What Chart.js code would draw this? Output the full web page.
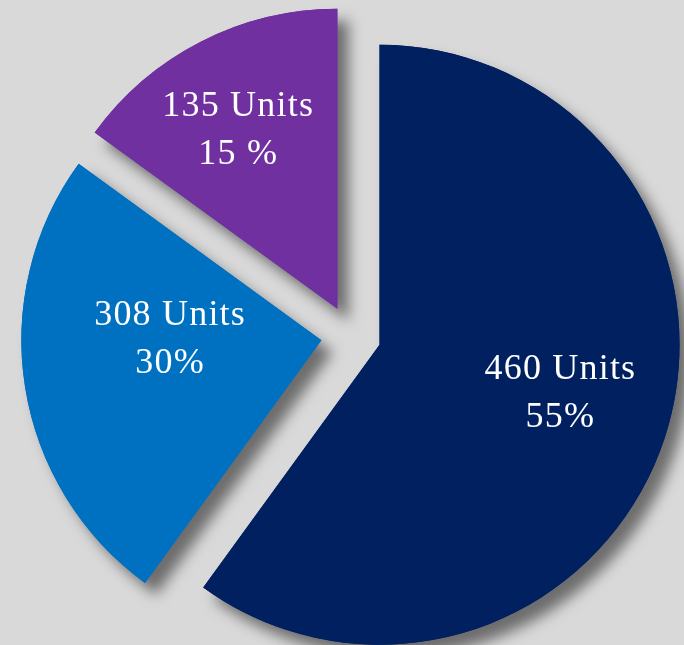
<!DOCTYPE html>
<html>
<head>
<meta charset="utf-8">
<script src="https://cdn.jsdelivr.net/npm/chart.js@4.4.1/dist/chart.umd.min.js"></script>
<style>
  html, body { margin: 0; padding: 0; background: #d9d9d9; overflow: hidden; }
  #wrap { width: 684px; height: 645px; }
</style>
</head>
<body>
<div id="wrap"><canvas id="chart" width="684" height="645"></canvas></div>
<script>
const categories = ["A", "B", "C"];
const sliceShares = [60, 25, 15];
const unitLabels = ["460 Units", "308 Units", "135 Units"];
const percentLabels = ["55%", "30%", "15 %"];
const colors = ["#002060", "#0070C0", "#7030A0"];

// --- Label placement: polar offset from each slice tip (deg clockwise from up, px) ---
const labelPlace = [
  { a: 100.6, r: 184 },
  { a: 275.7, r: 152 },
  { a: 332.8, r: 217 },
];

const EXPLODE = 30;

const explodePlugin = {
  id: "explode",
  afterDatasetsUpdate(chart) {
    const meta = chart.getDatasetMeta(0);
    meta.data.forEach((arc) => {
      const mid = (arc.startAngle + arc.endAngle) / 2;
      arc.x += Math.cos(mid) * EXPLODE;
      arc.y += Math.sin(mid) * EXPLODE;
    });
  },
  beforeDatasetsDraw(chart) {
    // shadows first so they sit under every slice
    const ctx = chart.ctx;
    const meta = chart.getDatasetMeta(0);
    ctx.save();
    ctx.shadowColor = "rgba(0,0,0,0.5)";
    ctx.shadowBlur = 14;
    ctx.shadowOffsetX = 11;
    ctx.shadowOffsetY = 12;
    meta.data.forEach((arc) => arc.draw(ctx));
    ctx.restore();
  },
  afterDatasetsDraw(chart) {
    const ctx = chart.ctx;
    const meta = chart.getDatasetMeta(0);
    ctx.save();
    ctx.fillStyle = "#ffffff";
    ctx.font = "36px 'Liberation Serif', serif";
    ctx.letterSpacing = "1.2px";
    ctx.textAlign = "center";
    ctx.textBaseline = "alphabetic";
    meta.data.forEach((arc, i) => {
      const p = labelPlace[i];
      const t = (p.a * Math.PI) / 180;
      const x = arc.x + Math.sin(t) * p.r;
      const y = arc.y - Math.cos(t) * p.r;
      ctx.fillText(unitLabels[i], x, y);
      ctx.fillText(percentLabels[i], x, y + 48);
    });
    ctx.restore();
  },
};

new Chart(document.getElementById("chart"), {
  type: "pie",
  data: {
    labels: categories,
    datasets: [
      {
        data: sliceShares,
        backgroundColor: colors,
        borderWidth: 0,
      },
    ],
  },
  options: {
    responsive: false,
    animation: false,
    radius: 300,
    layout: { padding: { left: 18, right: 0, top: 26, bottom: 0 } },
    plugins: { legend: { display: false }, tooltip: { enabled: false } },
  },
  plugins: [explodePlugin],
});
</script>
</body>
</html>
